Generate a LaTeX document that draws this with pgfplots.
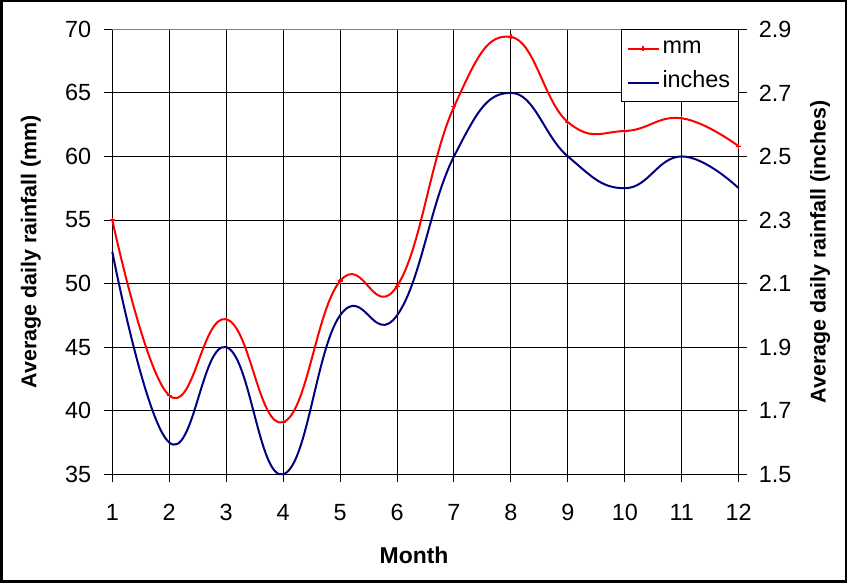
\documentclass[border=0pt]{standalone}
\usepackage{fontspec}
\setmainfont{Liberation Sans}
\usepackage{pgfplots}
\usepackage{pgfplotstable}
\pgfplotsset{compat=1.18}
\definecolor{navy}{RGB}{0,0,128}
\definecolor{pure red}{RGB}{255,0,0}
\pgfplotstableread{
month val
1 55.0
2 41.2
3 47.2
4 39.1
5 50.2
6 49.8
7 63.9
8 69.4
9 62.7
10 62.0
11 63.0
12 60.8
}\mmtable
\pgfplotstableread{
month val
1 2.2
2 1.6
3 1.9
4 1.5
5 2.0
6 2.0
7 2.5
8 2.7
9 2.5
10 2.4
11 2.5
12 2.4
}\intable
\pgfplotsset{
  common/.style={
    at={(112.3bp,111.7bp)}, anchor=south west,
    scale only axis, width=626.4bp, height=445bp,
    xmin=1, xmax=12,
    tick align=outside, major tick length=8bp,
    tick style={black, line width=1bp},
    ticklabel style={font=\fontsize{23.5}{27}\selectfont, inner sep=0pt},
    label style={font=\fontsize{21.5}{26}\selectfont\bfseries},
    /pgf/number format/assume math mode=true,
    clip=false,
  },
}
\begin{document}
\begin{tikzpicture}
\useasboundingbox (0,0) rectangle (847bp,586bp);
\fill[white] (0,0) rectangle (847bp,586bp);
\draw[line width=2.5bp] (1.25bp,4.25bp) rectangle (845.75bp,584.75bp);
\begin{axis}[common,
  ymin=35, ymax=70,
  ytick={35,40,45,50,55,60,65},
  extra y ticks={70},
  extra y tick style={grid style={gray, line width=1bp}},
  xtick={1,2,3,4,5,6,7,8,9,10,11,12},
  xtick pos=bottom, ytick pos=left,
  grid=major, grid style={black, line width=1bp},
  axis line style={draw=none},
  xticklabel shift=22bp,
  yticklabel shift=13bp,
  ylabel={Average daily rainfall (mm)},
  ylabel style={at={(axis description cs:-0.1298,0.5)}, anchor=center},
  xlabel={Month},
  xlabel style={at={(axis description cs:0.4817,-0.181)}, anchor=center, font=\fontsize{23}{27}\selectfont\bfseries},
]
\addplot[pure red, line width=2bp, smooth, tension=0.75, mark=+, mark size=2.5bp, mark options={line width=1.2bp}] table[x=month, y=val] {\mmtable};
\end{axis}
\begin{axis}[common,
  ymin=1.5, ymax=2.9,
  ytick={1.5,1.7,1.9,2.1,2.3,2.5,2.7,2.9},
  axis y line*=right, axis x line=none,
  axis line style={draw=none},
  yticklabel style={/pgf/number format/.cd, fixed, fixed zerofill, precision=1},
  yticklabel shift=12bp,
  ylabel={Average daily rainfall (inches)},
  ylabel style={at={(axis description cs:1.1298,0.5)}, anchor=center, rotate=0},
  legend style={at={(1,1)}, anchor=north east, draw=black, line width=1bp, fill=white,
    font=\fontsize{23.5}{27}\selectfont, inner xsep=5bp, inner ysep=2bp, row sep=0bp,
    nodes={inner xsep=3bp, inner ysep=7bp, text height=15bp, text depth=5bp},
    cells={anchor=west}},
  legend image code/.code={\draw[#1, mark repeat=2, mark phase=2] plot coordinates {(0bp,0bp) (15.5bp,0bp) (31bp,0bp)};},
]
\addlegendimage{pure red, line width=2bp, mark=+, mark size=2.5bp, mark options={line width=1.2bp}}
\addlegendentry{mm}
\addplot[navy, line width=2bp, smooth, tension=0.75, no marks] table[x=month, y=val] {\intable};
\addlegendentry{inches}
\end{axis}
\end{tikzpicture}
\end{document}
